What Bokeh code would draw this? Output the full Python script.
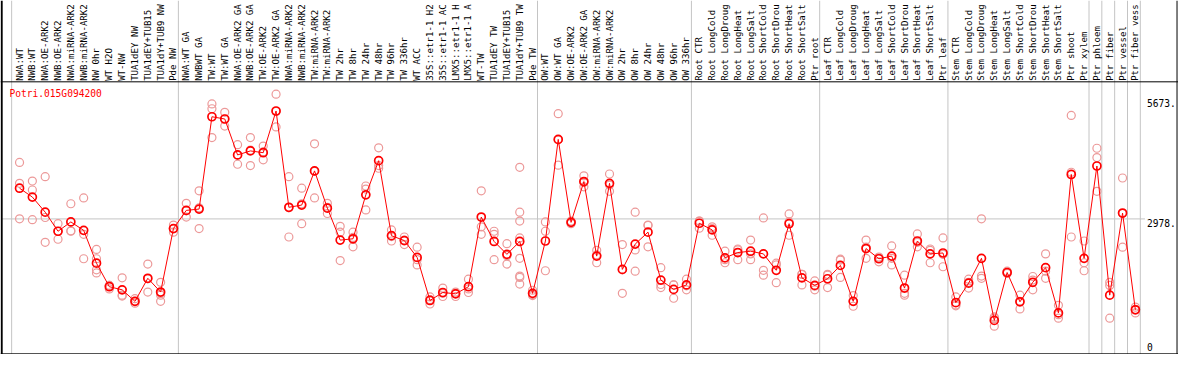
import math
from bokeh.plotting import figure
from bokeh.models import Range1d, Span, ColumnDataSource
from bokeh.embed import file_html
from bokeh.resources import INLINE
from bokeh.core.properties import value

gene = "Potri.015G094200"

categories = [
    "NWA:WT", "NWB:WT", "NWA:OE-ARK2", "NWB:OE-ARK2", "NWA:miRNA-ARK2", "NWB:miRNA-ARK2",
    "NW 0hr", "WT H2O", "WT-NW", "TUA1dEY NW", "TUA1dEY+TUB15 NW", "TUA1dY+TUB9 NW", "Pde NW",
    "NWA:WT GA", "NWBWT GA", "TW:WT", "TW:WT GA", "NWA:OE-ARK2 GA", "NWB:OE-ARK2 GA",
    "TW:OE-ARK2", "TW:OE-ARK2 GA", "NWA:miRNA-ARK2 GA", "NWB:miRNA-ARK2 GA", "TW:miRNA-ARK2",
    "TW:miRNA-ARK2", "TW 2hr", "TW 8hr", "TW 24hr", "TW 48hr", "TW 96hr", "TW 336hr", "WT ACC",
    "35S::etr1-1 H2O", "35S::etr1-1 ACC", "LMX5::etr1-1 H2O", "LMX5::etr1-1 ACC", "WT-TW",
    "TUA1dEY TW", "TUA1dEY+TUB15 TW", "TUA1dY+TUB9 TW", "Pde TW",
    "OW:WT", "OW:WT GA", "OW:OE-ARK2", "OW:OE-ARK2 GA", "OW:miRNA-ARK2", "OW:miRNA-ARK2",
    "OW 2hr", "OW 8hr", "OW 24hr", "OW 48hr", "OW 96hr", "OW 336hr",
    "Root CTR", "Root LongCold", "Root LongDrought", "Root LongHeat", "Root LongSalt",
    "Root ShortCold", "Root ShortDrought", "Root ShortHeat", "Root ShortSalt", "Ptr root",
    "Leaf CTR", "Leaf LongCold", "Leaf LongDrought", "Leaf LongHeat", "Leaf LongSalt",
    "Leaf ShortCold", "Leaf ShortDrought", "Leaf ShortHeat", "Leaf ShortSalt", "Ptr leaf",
    "Stem CTR", "Stem LongCold", "Stem LongDrought", "Stem LongHeat", "Stem LongSalt",
    "Stem ShortCold", "Stem ShortDrought", "Stem ShortHeat", "Stem ShortSalt", "Ptr shoot",
    "Ptr xylem", "Ptr phloem", "Ptr fiber", "Ptr vessel", "Ptr fiber vessel",
]

means = [
    3670, 3470, 3130, 2700, 2910, 2720, 1980, 1450, 1380, 1120, 1640, 1330, 2760,
    3170, 3200, 5280, 5230, 4420, 4510, 4470, 5410, 3240, 3290, 4060, 3220, 2500, 2530,
    3520, 4290, 2600, 2490, 2110, 1140, 1320, 1290, 1450, 3020, 2470, 2180, 2470, 1300,
    2480, 4770, 2900, 3820, 2140, 3780, 1840, 2410, 2680, 1600, 1390, 1490,
    2880, 2730, 2100, 2220, 2250, 2190, 1820, 2870, 1650, 1480,
    1630, 1930, 1120, 2310, 2080, 2140, 1420, 2480, 2190, 2210,
    1090, 1530, 2090, 690, 1770, 1110, 1550, 1880, 860, 3980, 2090,
    4170, 1260, 3110, 930,
]

replicates = [
    [4250, 3780, 2980], [3830, 3630, 2960], [3930, 3010, 2450], [2870, 2520, 2700],
    [3320, 2710, 2700], [3450, 2630, 2080], [2290, 2080, 1830, 1760], [1400, 1480, 1480],
    [1650, 1260, 1240], [1080, 1120, 1180], [1960, 1330, 1630], [1550, 1300, 1260, 1120],
    [2840, 2680, 2760],
    [3330, 3020, 3160], [3610, 2760, 3230], [5570, 5460, 4810], [5380, 5070, 5230],
    [4650, 4210, 4410], [4810, 4180, 4530], [4620, 4310, 4490], [5790, 5050, 5400],
    [3930, 2570, 3230], [3670, 2870, 3320], [4670, 3450, 4050], [3330, 3100, 3240],
    [2810, 2680, 2040], [2680, 2350, 2560], [3720, 3180, 3650], [4580, 4120, 4180],
    [2730, 2480, 2580], [2570, 2400, 2500], [2340, 1940, 2060], [1220, 1060, 1160],
    [1420, 1230, 1300], [1330, 1230, 1300], [1620, 1320, 1400], [3610, 2800, 2630],
    [2700, 2630, 2060], [2420, 1960, 2150],
    [4140, 3130, 2930, 2550, 2090, 1690, 1660, 1510], [1370, 1250, 1270],
    [2910, 2700, 1810], [5350, 4190, 4760], [2930, 2870, 2900], [3950, 3700, 3800],
    [2270, 1990, 2170], [3990, 3600, 3740], [2400, 1300, 1830], [3130, 2280, 1800],
    [2830, 2350, 2840], [1880, 1430, 1500], [1490, 1190, 1490], [1620, 1380, 1470],
    [2930, 2770, 2930], [2800, 2610, 2760], [2250, 1990, 2060], [2280, 2060, 2300],
    [2500, 2060, 2190], [3000, 1820, 1710], [1980, 1540, 1940], [3090, 2610, 2910],
    [1730, 1490, 1730], [1580, 1380, 1460],
    [1730, 1430, 1710], [2050, 1660, 2070], [1250, 1010, 1120], [2500, 2090, 2340],
    [2120, 2010, 2100], [2370, 1940, 2090], [1710, 1300, 1260], [2640, 2350, 2450],
    [2300, 1990, 2270], [2550, 1900, 2180],
    [1220, 1040, 1020], [1620, 1420, 1550], [2980, 1690, 1640], [770, 560, 740],
    [1800, 1750, 1760], [1260, 950, 1120], [1680, 1380, 1600], [2190, 1640, 1800],
    [1030, 740, 820], [5310, 4030, 2570], [2480, 1810, 1990],
    [4570, 4360, 3600], [1550, 1480, 740], [3900, 2340, 3100], [990, 860, 940],
]

group_starts = [0, 13, 41, 53, 63, 73, 84, 85, 86, 87, 88]
tick_values = [5673, 2978, 0]
tick_labels = ["5673.", "2978.", "0"]

# The reference header only has room for 14 characters of each label.
MAX_CHARS = 14
shown_labels = [c[:MAX_CHARS].rstrip() for c in categories]

# ---- layout (reference pixel geometry) ----
W, H = 1178, 354
REF_W, REF_H = 1194, 370
X0, DX = 19.3, 13.0          # x pixel of first category, spacing
Y0, DY = 366.4, 0.04638      # y pixel of value 0, pixels per unit


def xi(px):
    return (px - X0) / DX


def yv(py):
    return (Y0 - py) / DY


p = figure(width=W, height=H, output_backend="svg", toolbar_location=None,
           x_range=Range1d(xi(0), xi(REF_W)), y_range=Range1d(yv(REF_H), yv(0)),
           x_axis_location=None, y_axis_location=None, min_border=0,
           background_fill_color="white", border_fill_color="white")
p.grid.visible = False
p.outline_line_color = None

GREY = "#c4c4c4"
for g in group_starts:
    p.add_layout(Span(location=g - 8.0 / DX, dimension="height", line_color=GREY,
                      line_width=1, level="underlay"))
p.segment(x0=[xi(1)], x1=[xi(1160)], y0=[tick_values[1]], y1=[tick_values[1]],
          line_color=GREY, line_width=1)

# borders
p.add_layout(Span(location=xi(1.2), dimension="height", line_color="black", line_width=2))
p.add_layout(Span(location=xi(1192.5), dimension="height", line_color="black", line_width=1))
p.add_layout(Span(location=yv(85), dimension="width", line_color="black", line_width=1))
p.add_layout(Span(location=yv(369.3), dimension="width", line_color="black", line_width=1))

idx = list(range(len(categories)))
rx, ry = [], []
for i, reps in enumerate(replicates):
    for r in reps:
        rx.append(i)
        ry.append(r)

p.scatter(rx, ry, marker="circle", size=8, fill_color=None,
          line_color="#ec9999", line_width=1.2)
p.line(idx, means, line_color="red", line_width=1)
p.scatter(idx, means, marker="circle", size=8, fill_color=None,
          line_color="red", line_width=1.7)

FONT = value("DejaVu Sans Mono")

# category labels (rotated, reading upward)
p.text(x=idx, y=[yv(84)] * len(idx), text=shown_labels, angle=math.pi / 2,
       text_align="left", text_baseline="middle", text_font=FONT,
       text_font_size="9.1px", text_color="black")

# gene title
p.text(x=[xi(9)], y=[yv(97)], text=[gene], text_align="left",
       text_baseline="middle", text_font=FONT, text_font_size="9.6px",
       text_color="red")

# value labels on the right
tsrc = ColumnDataSource(dict(x=[xi(1162)] * 3, y=tick_values, t=tick_labels,
                             off=[4, 4, -4]))
p.text(x="x", y="y", text="t", y_offset="off", source=tsrc, text_align="left",
       text_baseline="middle", text_font=FONT, text_font_size="9.6px",
       text_color="black")

open("out.html", "w").write(file_html(p, INLINE))
